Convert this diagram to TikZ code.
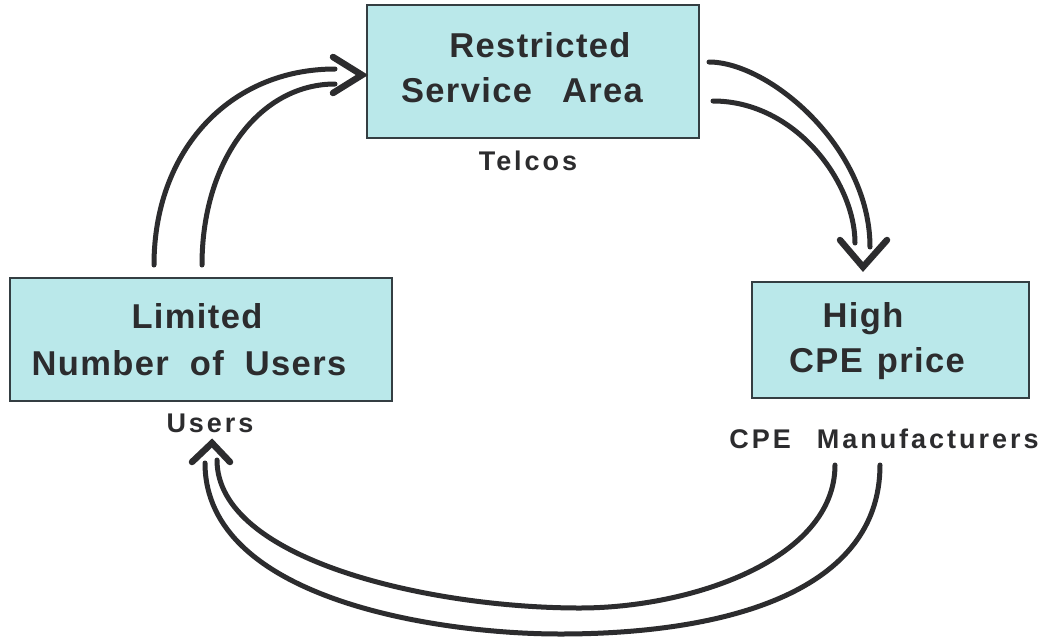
\documentclass[tikz,border=0pt]{standalone}
\usepackage{fontspec}
\newfontfamily\boxfont{Liberation Sans}[LetterSpace=4]
\newfontfamily\labfont{Liberation Sans}[LetterSpace=11]
\definecolor{boxfill}{RGB}{186,232,234}
\definecolor{ink}{RGB}{44,44,46}
\definecolor{edge}{RGB}{52,62,66}
\begin{document}
\begin{tikzpicture}[x=1pt,y=-1pt,
  cbox/.style={draw=edge,line width=2.2pt,fill=boxfill,inner sep=0pt},
  btext/.style={anchor=base,text=ink,inner sep=0pt,font=\boxfont\bfseries\fontsize{34.5}{40}\selectfont},
  ltext/.style={anchor=base,text=ink,inner sep=0pt,font=\labfont\bfseries\fontsize{27}{30}\selectfont},
  flow/.style={draw=ink,line width=5pt,line cap=round},
  chev/.style={draw=ink,line width=6.5pt,line cap=round,line join=miter}]
\useasboundingbox (0,0) rectangle (1061,641);
\fill[white] (0,0) rectangle (1061,641);
% boxes
\node[cbox,minimum width=332pt,minimum height=133pt] (rsa) at (533,71.5) {};
\node[cbox,minimum width=382pt,minimum height=123pt] (lnu) at (201,339.5) {};
\node[cbox,minimum width=277pt,minimum height=116pt] (hcp) at (890.5,340) {};
% box texts
\node[btext] (t1) at (540,57) {Restricted};
\node[btext] (t2) at (522,102) {Service\hspace{30pt}Area};
\node[btext] (t3) at (197,328) {Limited};
\node[btext] (t4) at (189,375) {Number\hspace{21pt}of\hspace{21pt}Users};
\node[btext] (t5) at (863,327) {High};
\node[btext] (t6) at (877,372) {CPE\hspace{14pt}price};
% labels
\node[ltext] (telcos) at (528,170) {Telcos};
\node[ltext] (users) at (210,432) {Users};
\node[ltext] (cpem) at (884,448) {CPE\hspace{26pt}Manufacturers};
% arrow ends
\coordinate (a1o) at (154,265); \coordinate (a1i) at (202,265);
\coordinate (b1o) at (335,69);  \coordinate (b1i) at (335,84);
\coordinate (a2o) at (709,62);  \coordinate (a2i) at (713,101);
\coordinate (b2o) at (870,247); \coordinate (b2i) at (855,243);
\coordinate (a3o) at (880,465); \coordinate (a3i) at (835,465);
\coordinate (m3o) at (560,634); \coordinate (m3i) at (580,608);
\coordinate (b3o) at (205,463); \coordinate (b3i) at (217,460);
% arrow 1: users -> restricted service area
\draw[flow] (a1o) .. controls (154,150) and (230,69) .. (b1o);
\draw[flow] (a1i) .. controls (202,160) and (260,84) .. (b1i);
\draw[chev] (333,57) -- (362,75) -- (333,93);
% arrow 2: restricted service area -> high CPE price
\draw[flow] (a2o) .. controls (769,62) and (870,147) .. (b2o);
\draw[flow] (a2i) .. controls (796,101) and (855,183) .. (b2i);
\draw[chev] (840,240) -- (863,267) -- (887,240);
% arrow 3: high CPE price -> limited number of users
\draw[flow] (a3o) .. controls (880,590) and (730,634) .. (m3o)
                  .. controls (440,634) and (205,600) .. (b3o);
\draw[flow] (a3i) .. controls (835,560) and (690,608) .. (m3i)
                  .. controls (430,608) and (217,560) .. (b3i);
\draw[chev] (192,462) -- (212,443) -- (230,462);
\end{tikzpicture}
\end{document}
